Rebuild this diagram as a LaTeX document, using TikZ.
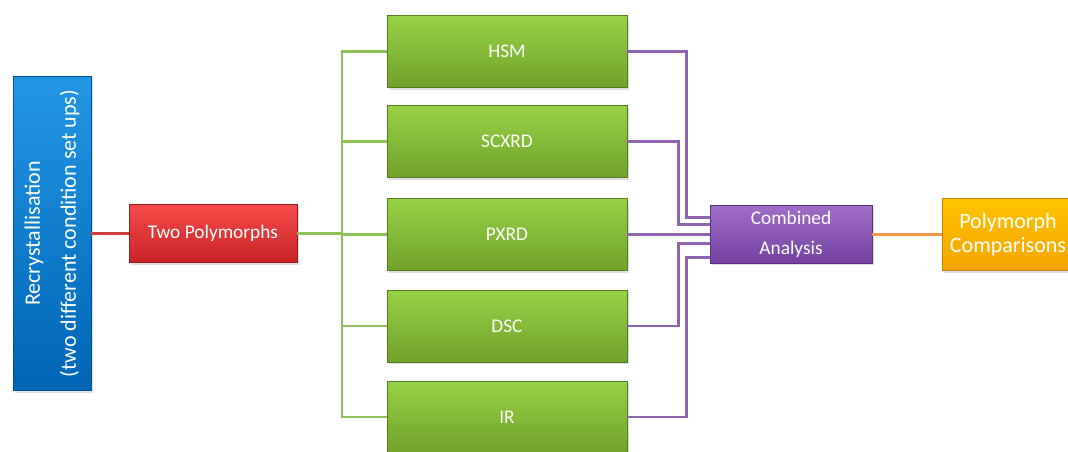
\documentclass[tikz,border=0pt]{standalone}
\usepackage{fontspec}
\setmainfont{Carlito}
\usetikzlibrary{calc,shadows}

\begin{document}
\begin{tikzpicture}[
    x=0.75pt,y=0.75pt,
    yscale=-1,xscale=1,
    font = \fontsize{14.5}{22.5}\selectfont,
    every path/.append style ={line width = 2.2pt,},
    box/.style = {
        draw, line width=0.6pt, text=white, align=center, inner sep=2pt,
        drop shadow={opacity=0.25, shadow xshift=1.2pt, shadow yshift=-1.5pt},
    },
    bluebox/.style = {
        box, rotate=90, minimum width=236pt, minimum height=58.5pt,
        font=\fontsize{16.5}{27}\selectfont,
        draw={rgb, 255:red, 0; green, 80; blue, 150 },
        top color={rgb, 255:red, 35; green, 150; blue, 230 },
        bottom color={rgb, 255:red, 0; green, 100; blue, 180 },
    },
    redbox/.style = {
        box, minimum width=126pt, minimum height=43.5pt,
        draw={rgb, 255:red, 150; green, 30; blue, 30 },
        top color={rgb, 255:red, 245; green, 75; blue, 75 },
        bottom color={rgb, 255:red, 200; green, 35; blue, 35 },
    },
    greenbox/.style = {
        box, minimum width=180pt, minimum height=54pt,
        draw={rgb, 255:red, 85; green, 125; blue, 30 },
        top color={rgb, 255:red, 150; green, 210; blue, 70 },
        bottom color={rgb, 255:red, 112; green, 162; blue, 42 },
    },
    purplebox/.style = {
        box, minimum width=121.5pt, minimum height=43pt,
        draw={rgb, 255:red, 90; green, 50; blue, 125 },
        top color={rgb, 255:red, 160; green, 110; blue, 200 },
        bottom color={rgb, 255:red, 115; green, 65; blue, 160 },
    },
    yellowbox/.style = {
        box, minimum width=99pt, minimum height=54pt,
        font=\fontsize{16.5}{18.5}\selectfont,
        draw={rgb, 255:red, 200; green, 130; blue, 0 },
        top color={rgb, 255:red, 255; green, 195; blue, 0 },
        bottom color={rgb, 255:red, 245; green, 165; blue, 0 },
    },
    redline/.style = {color={rgb, 255:red, 210; green, 60; blue, 60 }},
    greenline/.style = {color={rgb, 255:red, 142; green, 194; blue, 88 }},
    purpleline/.style = {color={rgb, 255:red, 142; green, 100; blue, 176 }},
    orangeline/.style = {color={rgb, 255:red, 247; green, 150; blue, 70 }},
]
    \useasboundingbox (0,0) rectangle (1068,451);

    % 方框
    \node [bluebox]   (rec)   at (52,233.5)  {Recrystallisation\\(two different condition set ups)};
    \node [redbox]    (two)   at (213,233.5) {Two Polymorphs};
    \node [greenbox]  (hsm)   at (507,51.5)  {HSM};
    \node [greenbox]  (scxrd) at (507,141.5) {SCXRD};
    \node [greenbox]  (pxrd)  at (507,234.5) {PXRD};
    \node [greenbox]  (dsc)   at (507,326)   {DSC};
    \node [greenbox]  (ir)    at (507,417)   {IR};
    \node [purplebox] (comb)  at (791,234.5) {Combined\\Analysis};
    \node [yellowbox] (comp)  at (1008,234.5) {Polymorph\\Comparisons};

    % 连线
    \coordinate (split) at (342,233.5);
    \draw [redline] (rec) -- (two);
    \draw [greenline] (two) -- (split);
    \foreach \n in {hsm,scxrd,pxrd,dsc,ir}
        \draw [greenline] (split) |- (\n.west);

    \draw [purpleline] (hsm.east) -- ++(59,0) |- ($(comb.north west)!0.21!(comb.south west)$);
    \draw [purpleline] (scxrd.east) -- ++(51,0) |- ($(comb.north west)!0.33!(comb.south west)$);
    \draw [purpleline] (pxrd) -- (comb);
    \draw [purpleline] (dsc.east) -- ++(51,0) |- ($(comb.north west)!0.65!(comb.south west)$);
    \draw [purpleline] (ir.east) -- ++(59,0) |- ($(comb.north west)!0.89!(comb.south west)$);

    \draw [orangeline] (comb) -- (comp);
\end{tikzpicture}
\end{document}
